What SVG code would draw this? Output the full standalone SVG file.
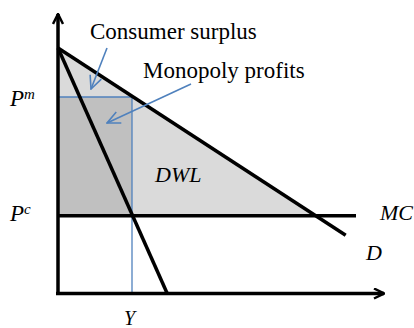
<svg xmlns="http://www.w3.org/2000/svg" width="414" height="328" viewBox="0 0 414 328">
  <style>
    .lbl { font-family: "Liberation Serif", "Times New Roman", serif; fill: #000; }
    .it { font-style: italic; }
    .blk { stroke: #000; stroke-width: 3.5; fill: none; stroke-linecap: butt; }
    .blu { stroke: #4F81BD; fill: none; }
  </style>
  <defs>
    <marker id="ah" viewBox="0 0 12 12" refX="11" refY="6" markerWidth="12" markerHeight="12" markerUnits="userSpaceOnUse" orient="auto">
      <path d="M1,1 L11,6 L1,11" fill="none" stroke="#000" stroke-width="2.5"/>
    </marker>
    <marker id="bh" viewBox="0 0 16 16" refX="15" refY="8" markerWidth="16" markerHeight="16" markerUnits="userSpaceOnUse" orient="auto">
      <path d="M2,2 L15,8 L2,14" fill="none" stroke="#4F81BD" stroke-width="1.6"/>
    </marker>
  </defs>

  <g id="areas">
    <polygon points="58,48 316,215.7 58,215.7" fill="#dadada"/>
    <rect x="58" y="97" width="74" height="118.7" fill="#c0c0c0"/>
  </g>

  <g id="connectors">
    <line class="blu" x1="58" y1="97" x2="132" y2="97" stroke-width="1.3"/>
    <line class="blu" x1="132" y1="97" x2="132" y2="293" stroke-width="1.3"/>
    <line class="blk" x1="58" y1="215.7" x2="356" y2="215.7"/>
    <line class="blk" x1="58" y1="48" x2="345.7" y2="235.3"/>
    <line class="blk" x1="58" y1="48" x2="167" y2="293"/>
    <line class="blk" x1="58" y1="295" x2="58" y2="14" stroke-width="4" marker-end="url(#ah)"/>
    <line class="blk" x1="56" y1="293.5" x2="384" y2="293.5" stroke-width="4" marker-end="url(#ah)"/>
    <line class="blu" x1="107" y1="48" x2="91" y2="89" stroke-width="1.6" marker-end="url(#bh)"/>
    <line class="blu" x1="191" y1="84" x2="107" y2="123" stroke-width="1.6" marker-end="url(#bh)"/>
  </g>

  <g id="label-consumer-surplus"><text class="lbl" x="90" y="38.5" font-size="23">Consumer surplus</text></g>
  <g id="label-monopoly-profits"><text class="lbl" x="143" y="78" font-size="23">Monopoly profits</text></g>
  <g id="label-pm"><text class="lbl it" x="10" y="106" font-size="23">P<tspan font-size="15" dy="-7">m</tspan></text></g>
  <g id="label-pc"><text class="lbl it" x="10" y="221" font-size="23">P<tspan font-size="15" dy="-7">c</tspan></text></g>
  <g id="label-y"><text class="lbl it" x="124" y="325" font-size="20">Y</text></g>
  <g id="label-dwl"><text class="lbl it" x="155" y="182" font-size="22">DWL</text></g>
  <g id="label-mc"><text class="lbl it" x="380" y="220" font-size="22">MC</text></g>
  <g id="label-d"><text class="lbl it" x="366" y="260" font-size="22">D</text></g>
</svg>
